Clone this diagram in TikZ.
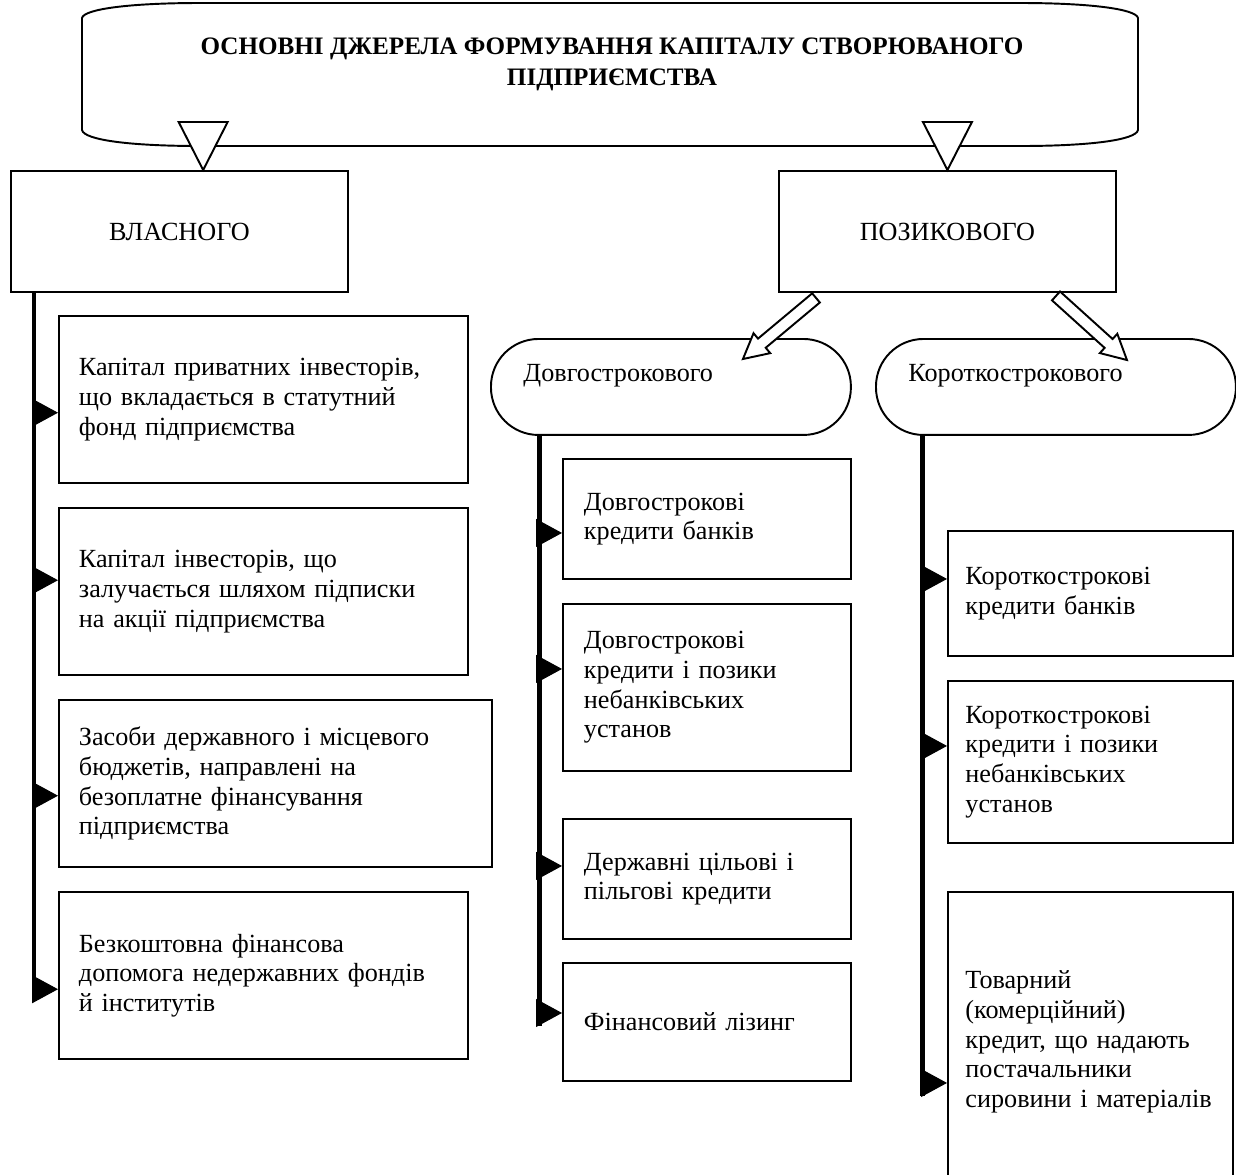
\documentclass[tikz,border=0pt]{standalone}
\usepackage{fontspec}
\setmainfont{Liberation Serif}
\usetikzlibrary{calc}
\usetikzlibrary{arrows.meta}

\newcommand{\fatarrow}[2]{%
 \draw[fat] let \p1=($(#2)-(#1)$), \n1={atan2(\y1,\x1)}, \n2={veclen(\x1,\y1)} in
  ([shift={(#1)},rotate=\n1]0pt,3.4pt) -- ([shift={(#1)},rotate=\n1]\n2-14pt,3.4pt)
  -- ([shift={(#1)},rotate=\n1]\n2-14pt,7.4pt) -- (#2)
  -- ([shift={(#1)},rotate=\n1]\n2-14pt,-7.4pt) -- ([shift={(#1)},rotate=\n1]\n2-14pt,-3.4pt)
  -- ([shift={(#1)},rotate=\n1]0pt,-3.4pt) -- cycle;
}

\begin{document}
\begin{tikzpicture} [x=0.02cm, y=-0.02cm,
 every node/.style={font=\fontsize{14.9}{16.9}\selectfont},
 box/.style={draw, line width=1.1pt, fill=white, anchor=north west, align=left},
 gbox/.style={box, align=center, minimum width=6.74cm, minimum height=2.42cm},
 lbox/.style={box, minimum width=8.18cm, text width=7.38cm, inner xsep=0.4cm, minimum height=3.35cm},
 mbox/.style={box, minimum width=5.76cm, text width=4.92cm, inner xsep=0.42cm},
 rbox/.style={box, minimum width=5.7cm, text width=5cm, inner xsep=0.35cm},
 stad/.style={box, rounded corners=0.95cm, minimum width=7.2cm, minimum height=1.92cm,
   text width=5.9cm, inner xsep=0.65cm, text depth=0.55cm},
 opentri/.style={draw, line width=1.1pt, fill=white},
 bar/.style={line width=2.6pt},
 mk/.style={line width=0.6pt, -{Triangle[length=0.52cm, width=0.56cm]}},
 fat/.style={draw, line width=1.1pt, fill=white}]

\path[use as bounding box] (0,0) rectangle (1236,1174);
\clip (0,0) rectangle (1236,1174);

\draw[line width=1.1pt] (82,130) -- (82,18) .. controls (84,9) and (130,3) .. (200,3) -- (1020,3)
 .. controls (1090,3) and (1136,9) .. (1138,18) -- (1138,130) .. controls (1136,140) and (1090,146) .. (1020,146)
 -- (200,146) .. controls (130,146) and (84,140) .. (82,130) -- cycle;
\node[align=center, font=\fontsize{14.3}{17.6}\selectfont\bfseries] (title) at (612,64)
 {ОСНОВНІ ДЖЕРЕЛА ФОРМУВАННЯ КАПІТАЛУ СТВОРЮВАНОГО\\ПІДПРИЄМСТВА};

\node[gbox] (vlas) at (10,170) {ВЛАСНОГО};
\node[gbox] (poz) at (778,170) {ПОЗИКОВОГО};

\node[lbox] (k1) at (58,315) {Капітал приватних інвесторів,\\що вкладається в статутний\\фонд підприємства};
\node[lbox] (k2) at (58,507) {Капітал інвесторів, що\\залучається шляхом підписки\\на акції підприємства};
\node[lbox, minimum width=8.66cm, text width=7.86cm] (k3) at (58,699) {Засоби державного і місцевого\\бюджетів, направлені на\\безоплатне фінансування\\підприємства};
\node[lbox] (k4) at (58,891) {Безкоштовна фінансова\\допомога недержавних фондів\\й інститутів};

\node[stad] (dovg) at (490,338) {Довгострокового};
\node[mbox, minimum height=2.4cm] (d1) at (562,458) {Довгострокові\\кредити банків};
\node[mbox, minimum height=3.34cm] (d2) at (562,603) {Довгострокові\\кредити і позики\\небанківських\\установ};
\node[mbox, minimum height=2.4cm] (d3) at (562,818) {Державні цільові і\\пільгові кредити};
\node[mbox, minimum height=2.36cm] (d4) at (562,962) {Фінансовий лізинг};

\node[stad] (kor) at (875,338) {Короткострокового};
\node[rbox, minimum height=2.5cm] (r1) at (947,530) {Короткострокові\\кредити банків};
\node[rbox, minimum height=3.24cm] (r2) at (947,680) {Короткострокові\\кредити і позики\\небанківських\\установ};
\node[rbox, minimum height=6cm] (r3) at (947,891) {Товарний\\(комерційний)\\кредит, що надають\\постачальники\\сировини і матеріалів};

\coordinate (t1) at ($(vlas.north west)!0.57!(vlas.north east)$);
\coordinate (t2) at (poz.north);
\foreach \t in {t1,t2} {
 \draw[opentri] (\t) -- ++(-24.5,-48) -- ++(49,0) -- cycle;
};

\coordinate (lbar) at (34,1001);
\coordinate (mbar) at (539.5,1026);
\coordinate (rbar) at (922.5,1096);
\draw[bar] (vlas.south -| lbar) -- (lbar);
\draw[bar] (dovg.south -| mbar) -- (mbar);
\draw[bar] (kor.south -| rbar) -- (rbar);

\foreach \b/\d in {k1/13,k2/-11.5,k3/12,k4/13.5} {
 \path ($(\b.west)+(0,\d)$) coordinate (m);
 \draw[mk] (lbar |- m) -- (m);
};
\foreach \b/\d in {d1/14,d2/-18.5,d3/-13,d4/-9} {
 \path ($(\b.west)+(0,\d)$) coordinate (m);
 \draw[mk] (mbar |- m) -- (m);
};
\foreach \b/\d in {r1/-14.5,r2/-16,r3/41} {
 \path ($(\b.west)+(0,\d)$) coordinate (m);
 \draw[mk] (rbar |- m) -- (m);
};

\coordinate (fa1) at ($(poz.south west)+(38,5)$);
\coordinate (fb1) at ($(dovg.north)+(72,21)$);
\coordinate (fa2) at ($(poz.south west)+(278,3)$);
\coordinate (fb2) at ($(kor.north)+(71,22)$);
\fatarrow{fa1}{fb1}
\fatarrow{fa2}{fb2}

\end{tikzpicture}
\end{document}
